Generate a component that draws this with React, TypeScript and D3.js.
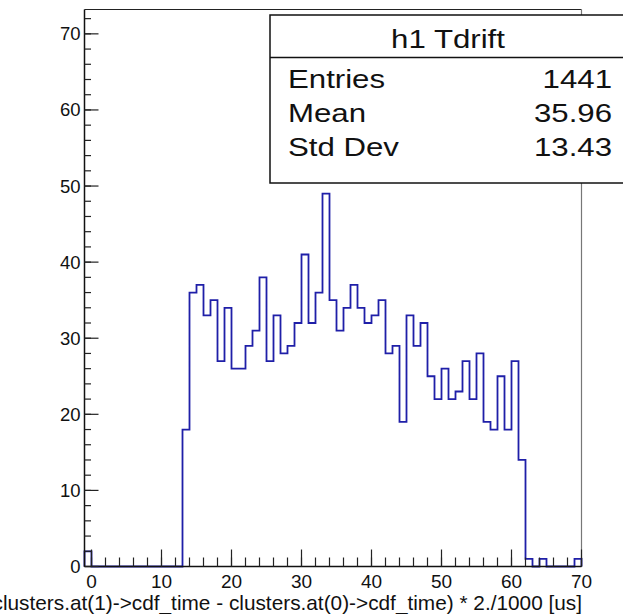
import React from "react";
import * as d3 from "d3";

// Histogram h1: drift time between the first two clusters, 1 us bins from -1 to 70
const BIN_LOW = -1;
const BIN_WIDTH = 1;
const counts = [
  2, // [-1, 0)
  0, 0, 0, 0, 0, 0, 0, 0, 0, 0, 0, 0, 0, // 0 .. 12
  18, 36, 37, 33, 35, 27, 34, 26, 26, 29, // 13 .. 22
  31, 38, 27, 33, 28, 29, 32, 41, 32, 36, // 23 .. 32
  49, 35, 31, 34, 37, 34, 32, 33, 35, 28, // 33 .. 42
  29, 19, 33, 29, 32, 25, 22, 26, 22, 23, // 43 .. 52
  27, 22, 28, 19, 18, 25, 18, 27, 14, 1, // 53 .. 62
  0, 1, 0, 0, 0, 0, 1, // 63 .. 69
];

const xMajorTicks = [0, 10, 20, 30, 40, 50, 60, 70];
const xMinorTicks = d3.range(0, 71, 2);
const yMajorTicks = [0, 10, 20, 30, 40, 50, 60, 70];
const yMinorTicks = d3.range(0, 73, 2);

const statsTitle = "h1 Tdrift";
const statsLabels = ["Entries", "Mean", "Std Dev"];
const statsValues = ["1441", "35.96", "13.43"];

const xTitle = "(clusters.at(1)->cdf_time - clusters.at(0)->cdf_time) * 2./1000 [us]";

const W = 623;
const H = 614;
const FONT = "'Liberation Sans', Arial, Helvetica, sans-serif";

// stats text is drawn slightly widened
const STAT_SX = 1.2;

function StatText(props: { x: number; y: number; anchor: string; children: React.ReactNode }) {
  const { x, y, anchor, children } = props;
  return (
    <g transform={`translate(${x},${y}) scale(${STAT_SX},1)`}>
      <text x={0} y={0} textAnchor={anchor} fontSize={26} fill="#111">
        {children}
      </text>
    </g>
  );
}

export default function App() {
  const x = d3.scaleLinear().domain([-1, 70]).range([84.5, 581.5]);
  const y = d3.scaleLinear().domain([0, 73.2]).range([566.5, 9.5]);

  // Step outline of the histogram along the full axis range
  const pts: [number, number][] = [[x(BIN_LOW), y(0)]];
  counts.forEach((c, i) => {
    const lo = BIN_LOW + i * BIN_WIDTH;
    pts.push([x(lo), y(c)]);
    pts.push([x(lo + BIN_WIDTH), y(c)]);
  });
  pts.push([x(BIN_LOW + counts.length * BIN_WIDTH), y(0)]);
  const histPath = d3.line()(pts) as string;

  const [x0, x1] = x.range();
  const [y0, y1] = y.range();

  return (
    <svg
      width={W}
      height={H}
      style={{ position: "absolute", left: 0, top: 0, background: "#fff" }}
      fontFamily={FONT}
    >
      <rect x={0} y={0} width={W} height={H} fill="#fff" />

      {/* frame */}
      <line x1={x0} x2={x1} y1={y1} y2={y1} stroke="#222" strokeWidth={1.2} />
      <line x1={x1} x2={x1} y1={y1} y2={y0} stroke="#777" strokeWidth={1.2} />

      {/* histogram */}
      <path d={histPath} fill="none" stroke="#1f1fa8" strokeWidth={1.8} strokeLinejoin="miter" />

      {/* axes */}
      <line x1={x0} x2={x0} y1={y1} y2={y0 + 0.5} stroke="#111" strokeWidth={1.5} />
      <line x1={x0} x2={x1} y1={y0} y2={y0} stroke="#111" strokeWidth={1.5} />

      {/* y ticks */}
      {yMinorTicks.map((t) => (
        <line key={"ym" + t} x1={x0} x2={x0 + 6.5} y1={y(t)} y2={y(t)} stroke="#222" strokeWidth={1.2} />
      ))}
      {yMajorTicks.map((t) => (
        <g key={"yM" + t}>
          <line x1={x0} x2={x0 + 14} y1={y(t)} y2={y(t)} stroke="#222" strokeWidth={1.2} />
          <text x={80.5} y={y(t) + 6.5} textAnchor="end" fontSize={18.5} fill="#111">
            {t}
          </text>
        </g>
      ))}

      {/* x ticks */}
      {xMinorTicks.map((t) => (
        <line key={"xm" + t} x1={x(t)} x2={x(t)} y1={y0} y2={y0 - 9} stroke="#222" strokeWidth={1.2} />
      ))}
      {xMajorTicks.map((t) => (
        <g key={"xM" + t}>
          <line x1={x(t)} x2={x(t)} y1={y0} y2={y0 - 17} stroke="#222" strokeWidth={1.2} />
          <text x={x(t)} y={588} textAnchor="middle" fontSize={19} fill="#111">
            {t}
          </text>
        </g>
      ))}

      {/* x axis title, right-aligned to the axis end */}
      <text x={582} y={610} textAnchor="end" fontSize={20.8} fill="#111">
        {xTitle}
      </text>

      {/* statistics box */}
      <g>
        <rect x={270} y={15} width={360} height={168} fill="#fff" stroke="#111" strokeWidth={1.5} />
        <line x1={270} x2={630} y1={57.5} y2={57.5} stroke="#111" strokeWidth={1.3} />
        <StatText x={448} y={48} anchor="middle">
          {statsTitle}
        </StatText>
        {statsLabels.map((lab, i) => (
          <g key={lab}>
            <StatText x={288} y={87.5 + i * 34.3} anchor="start">
              {lab}
            </StatText>
            <StatText x={612} y={87.5 + i * 34.3} anchor="end">
              {statsValues[i]}
            </StatText>
          </g>
        ))}
      </g>
    </svg>
  );
}
